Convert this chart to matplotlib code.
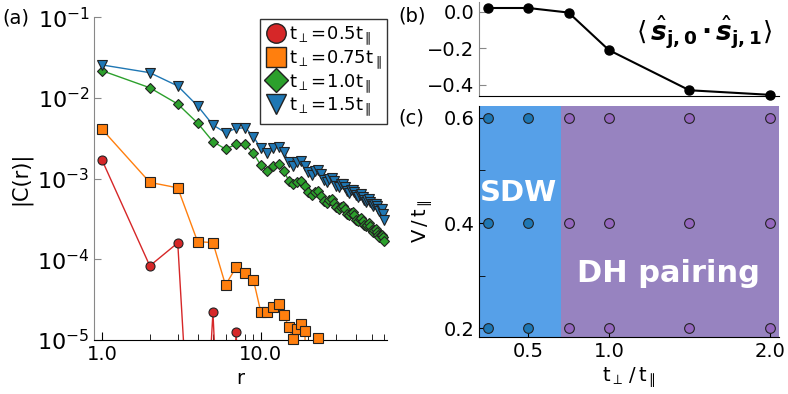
import numpy as np
import matplotlib
matplotlib.use("Agg")
import matplotlib.pyplot as plt
from matplotlib.lines import Line2D
from matplotlib.ticker import FixedLocator, NullFormatter, NullLocator

plt.rcParams['font.family'] = ['DejaVu Sans']
plt.rcParams['mathtext.fontset'] = 'dejavusans'

# (a) correlacion |C(r)|
r_red = np.arange(1, 9)
c_red = [1.7e-3, 8.3e-5, 1.6e-4, 1e-8, 2.2e-5, 1e-8, 1.27e-5, 1e-8]

r_orange = np.arange(1, 25)
c_orange = [4.1e-3, 9.0e-4, 7.7e-4, 1.66e-4, 1.61e-4, 4.8e-5, 8.0e-5, 6.85e-5,
            5.56e-5, 2.25e-5, 2.25e-5, 2.55e-5, 2.8e-5, 2.05e-5, 1.47e-5, 1.02e-5,
            1.37e-5, 1.57e-5, 1.31e-5, 1e-8, 1e-8, 1e-8, 1.05e-5, 1e-8]

r_long = np.arange(1, 61)
c_green = np.array([21.8, 13.4, 8.43, 4.9, 2.88, 2.33, 2.67, 2.67, 2.07, 1.47,
                    1.26, 1.44, 1.52, 1.26, 0.94, 0.86, 0.92, 0.93, 0.80, 0.68,
                    0.63, 0.69, 0.70, 0.61, 0.53, 0.50, 0.55, 0.56, 0.50, 0.44,
                    0.42, 0.45, 0.46, 0.42, 0.37, 0.35, 0.38, 0.39, 0.35, 0.31,
                    0.30, 0.32, 0.33, 0.30, 0.27, 0.26, 0.27, 0.28, 0.26, 0.23,
                    0.22, 0.23, 0.24, 0.22, 0.20, 0.19, 0.20, 0.20, 0.19, 0.17]) * 1e-3
c_blue = np.array([25.7, 20.6, 14.1, 8.0, 4.63, 3.72, 4.2, 4.28, 3.32, 2.38,
                   2.07, 2.38, 2.49, 2.16, 1.63, 1.44, 1.6, 1.65, 1.45, 1.22,
                   1.12, 1.25, 1.28, 1.13, 0.97, 0.90, 1.0, 1.02, 0.93, 0.82,
                   0.78, 0.85, 0.86, 0.79, 0.71, 0.67, 0.72, 0.73, 0.68, 0.62,
                   0.59, 0.63, 0.64, 0.60, 0.55, 0.52, 0.55, 0.56, 0.52, 0.48,
                   0.46, 0.48, 0.49, 0.46, 0.42, 0.40, 0.42, 0.42, 0.37, 0.31]) * 1e-3

labels = [r'$\mathregular{t_{\perp}\!=\!0.5t_{\parallel}}$',
          r'$\mathregular{t_{\perp}\!=\!0.75t_{\parallel}}$',
          r'$\mathregular{t_{\perp}\!=\!1.0t_{\parallel}}$',
          r'$\mathregular{t_{\perp}\!=\!1.5t_{\parallel}}$']
colores = ['#d62728', '#ff7f0e', '#2ca02c', '#1f77b4']
marcadores = ['o', 's', 'D', 'v']
tamanos = [6.5, 7.5, 5.5, 7.5]
tam_leyenda = [14, 14, 12, 14]

# (b) <S_j0 . S_j1>
t_perp = [0.25, 0.5, 0.75, 1.0, 1.5, 2.0]
s_corr = [0.02, 0.02, -0.005, -0.21, -0.43, -0.455]

# (c) diagrama de fases
V_vals = [0.2, 0.4, 0.6]
fase_sdw = [True, True, False, False, False, False]
borde_fase = 0.7

fig = plt.figure(figsize=(7.88, 3.94), dpi=100)

# ---------- (a) ----------
ax = fig.add_axes([0.1197, 0.137, 0.3714, 0.819])
series = [(r_red, c_red), (r_orange, c_orange), (r_long, c_green), (r_long, c_blue)]
for (rr, cc), col, mk, ms in zip(series, colores, marcadores, tamanos):
    rr = np.asarray(rr)
    cc = np.asarray(cc)
    ax.plot(rr, cc, '-', color=col, lw=1.0, zorder=2)
    m = cc >= 0.9e-5
    ax.plot(rr[m], cc[m], ls='none', marker=mk, ms=ms, color=col,
            mec='#222222', mew=0.8, clip_on=False, zorder=3)
ax.set_xscale('log')
ax.set_yscale('log')
ax.set_xlim(0.894, 62.5)
ax.set_ylim(1e-5, 1e-1)
ax.set_xticks([1, 10])
ax.set_xticklabels(['1.0', '10.0'])
ax.xaxis.set_minor_locator(FixedLocator(list(range(2, 10)) + list(range(20, 70, 10))))
ax.xaxis.set_minor_formatter(NullFormatter())
ax.yaxis.set_minor_locator(NullLocator())
ax.tick_params(which='both', direction='in', labelsize=14)
ax.tick_params(axis='y', labelsize=16)
ax.tick_params(which='major', length=6)
ax.tick_params(which='minor', length=4)
ax.tick_params(axis='y', which='major', length=5, color='#888888')
for s in ['top', 'right']:
    ax.spines[s].set_visible(False)
ax.spines['left'].set_color('#888888')
ax.set_xlabel('r', fontsize=14, labelpad=4)
ax.set_ylabel('|C(r)|', fontsize=15, labelpad=4)
handles = [Line2D([], [], ls='none', marker=mk, color=col, mec='#222222', mew=1.0, ms=ms)
           for col, mk, ms in zip(colores, marcadores, tam_leyenda)]
leg = ax.legend(handles, labels, loc='upper right', bbox_to_anchor=(1.0, 0.995),
                fontsize=13, frameon=True, fancybox=False, edgecolor='black',
                handlelength=1.2, handletextpad=0.1, borderpad=0.3, labelspacing=0.05,
                borderaxespad=0.0)
leg.get_frame().set_linewidth(1.0)
fig.text(0.003, 0.955, '(a)', fontsize=14, va='center')

# ---------- (b) ----------
axb = fig.add_axes([0.6079, 0.757, 0.381, 0.238])
axb.plot(t_perp, s_corr, '-o', color='black', lw=1.5, ms=6.5, clip_on=False, zorder=3)
axb.set_xlim(0.194, 2.058)
axb.set_ylim(-0.46, 0.053)
axb.set_yticks([0.0, -0.2, -0.4])
axb.set_yticklabels(['0.0', '\u22120.2', '\u22120.4'])
axb.set_xticks([])
axb.tick_params(direction='in', labelsize=14, length=5, color='#888888')
for s in ['top', 'right']:
    axb.spines[s].set_visible(False)
axb.spines['left'].set_color('#888888')
axb.text(0.975, 0.68,
         r'$\langle\,\hat{\mathbfit{s}}_{\mathbf{j,0}}\,\mathbf{\cdot}\,\hat{\mathbfit{s}}_{\mathbf{j,1}}\rangle$',
         transform=axb.transAxes, ha='right', va='center', fontsize=19)
fig.text(0.505, 0.96, '(b)', fontsize=14, va='center')

# ---------- (c) ----------
axc = fig.add_axes([0.6079, 0.144, 0.381, 0.588])
axc.set_xlim(0.194, 2.058)
axc.set_ylim(0.183, 0.623)
axc.axvspan(0.194, borde_fase, color='#56a0e8', lw=0, zorder=0)
axc.axvspan(borde_fase, 2.058, color='#9783c0', lw=0, zorder=0)
for x, sdw in zip(t_perp, fase_sdw):
    col = '#1f77b4' if sdw else '#9467bd'
    axc.plot([x] * len(V_vals), V_vals, ls='none', marker='o', ms=7, color=col,
             mec='#222222', mew=0.8, clip_on=False, zorder=3)
axc.set_xticks([0.5, 1.0, 2.0])
axc.set_xticklabels(['0.5', '1.0', '2.0'])
axc.set_yticks([0.2, 0.4, 0.6])
axc.yaxis.set_minor_locator(FixedLocator([0.3, 0.5]))
axc.tick_params(which='both', direction='in', labelsize=14)
axc.tick_params(which='major', length=5)
axc.tick_params(which='minor', length=4)
for s in ['top', 'right']:
    axc.spines[s].set_visible(False)
axc.text(0.44, 0.457, 'SDW', color='white', fontsize=21, fontweight='bold',
         ha='center', va='center')
axc.text(1.37, 0.305, 'DH pairing', color='white', fontsize=22, fontweight='bold',
         ha='center', va='center')
axc.set_xlabel(r'$\mathregular{t_{\perp}\,/\,t_{\parallel}}$', fontsize=14, labelpad=3)
axc.set_ylabel(r'$\mathregular{V\,/\,t_{\parallel}}$', fontsize=14, labelpad=6)
fig.text(0.505, 0.7, '(c)', fontsize=14, va='center')

fig.savefig('out.png', dpi=100)
